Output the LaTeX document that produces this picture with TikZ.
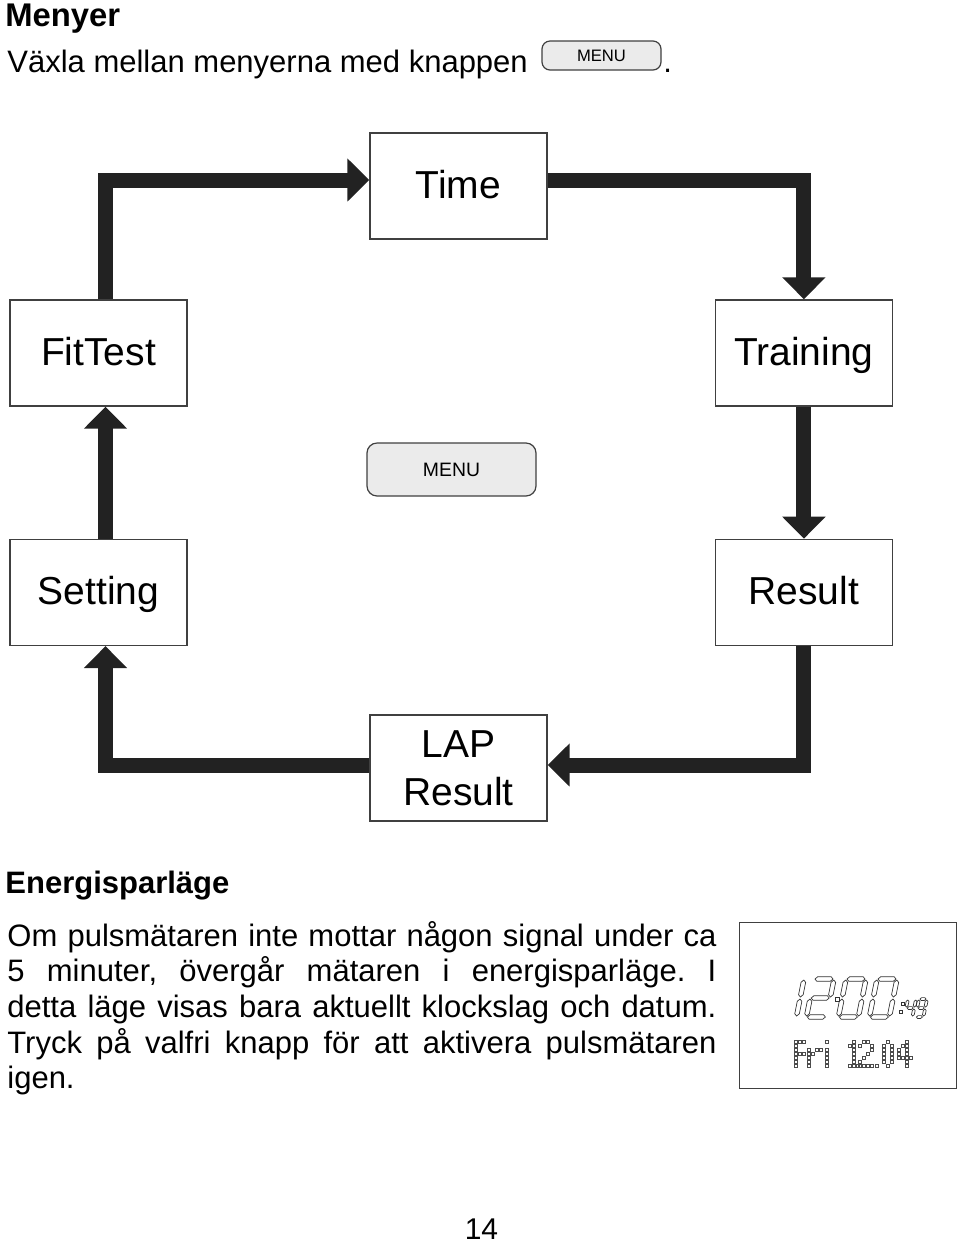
\documentclass[tikz,border=0pt]{standalone}
\usepackage{fontspec}
\setmainfont{Liberation Sans}
\usetikzlibrary{arrows.meta,positioning}

\definecolor{arrowgray}{HTML}{222222}
\definecolor{boxgray}{HTML}{404040}
\definecolor{keygray}{HTML}{EBEBEB}

% seven segment parts of the LCD (local units = px, y downwards)
\def\segW{20}\def\segH{38}\def\segt{2.3}
\newcommand\hseg[3]{\draw[lcdseg] (#1,#3) -- ({#1+\segt},{#3-\segt}) -- ({#2-\segt},{#3-\segt})
  -- (#2,#3) -- ({#2-\segt},{#3+\segt}) -- ({#1+\segt},{#3+\segt}) -- cycle;}
\newcommand\vseg[3]{\draw[lcdseg] (#1,#2) -- ({#1+\segt},{#2+\segt}) -- ({#1+\segt},{#3-\segt})
  -- (#1,#3) -- ({#1-\segt},{#3-\segt}) -- ({#1-\segt},{#2+\segt}) -- cycle;}
\newcommand\lcdsa{\hseg{1}{\segW-1}{0}}
\newcommand\lcdsb{\vseg{\segW}{1}{\segH/2-1}}
\newcommand\lcdsc{\vseg{\segW}{\segH/2+1}{\segH-1}}
\newcommand\lcdsd{\hseg{1}{\segW-1}{\segH}}
\newcommand\lcdse{\vseg{0}{\segH/2+1}{\segH-1}}
\newcommand\lcdsf{\vseg{0}{1}{\segH/2-1}}
\newcommand\lcdsg{\hseg{1}{\segW-1}{\segH/2}}
\newcommand\lcddigit[3]{\begin{scope}[shift={(#1,#2)},xslant=0.2]
  \foreach \s in {#3}{\csname lcds\s\endcsname}\end{scope}}
% dot matrix characters
\newcommand\lcdchar[3]{\foreach \cx/\ry in {#3}{\draw[lcddot] ({#1+4*\cx},{#2+4*\ry}) rectangle ++(2.8,2.8);}}

\tikzset{
  menubox/.style={draw=boxgray, line width=0.7pt, fill=white, minimum width=88.5pt,
    minimum height=53pt, inner sep=0pt, align=center, font=\fontsize{19.5}{24}\selectfont},
  oneline/.style={menubox, text height=16.5pt, text depth=4pt},
  menukey/.style={draw=boxgray, line width=0.6pt, fill=keygray, rounded corners=5pt, inner sep=0pt},
  flow/.style={draw=arrowgray, line width=7.5pt, line join=miter,
    -{Triangle[length=11pt,width=21pt]}},
  plaintext/.style={anchor=base west, inner sep=0pt},
  lcdseg/.style={draw=black!80, line width=0.35pt},
  lcddot/.style={draw=black!70, line width=0.3pt},
}

\begin{document}
\frenchspacing
\begin{tikzpicture}[x=0.5pt,y=-0.5pt]
  \useasboundingbox (0,0) rectangle (960,1244);

  % heading
  \node[plaintext, font=\bfseries\fontsize{16.4}{20}\selectfont] (title) at (5,26) {Menyer};
  \node[plaintext, font=\fontsize{15.5}{18}\selectfont] (intro) at (7,72) {Växla mellan menyerna med knappen};
  \node[menukey, rounded corners=4pt, minimum width=59.5pt, minimum height=14.5pt,
        font=\fontsize{8.3}{10}\selectfont] (smallkey) at (601.5,55.5) {MENU};
  \node[plaintext, font=\fontsize{15.5}{18}\selectfont] (dot) at (663,72) {.};

  % menu loop
  \node[oneline] (time)     at (458.5,186)            {Time};
  \node[oneline] (fittest)  at (98.5,353)             {FitTest};
  \node[oneline] (training) [right=263.5pt of fittest] {Training};
  \node[oneline] (setting)  [below=66pt of fittest]   {Setting};
  \node[oneline] (result)   [below=66pt of training]  {Result};
  \node[menubox] (lap)      at (458.5,768)            {LAP\\Result};
  \node[menukey, minimum width=84.5pt, minimum height=26.5pt,
        font=\fontsize{9.7}{12}\selectfont] (menukey) at (451.5,469.5) {MENU};

  \path[flow] ([xshift=3.5pt]fittest.north) |- ([yshift=3pt]time.west);
  \path[flow] ([yshift=3pt]time.east) -| (training.north);
  \path[flow] (training.south) -- (result.north);
  \path[flow] (result.south) |- ([yshift=1.5pt]lap.east);
  \path[flow] ([yshift=1.5pt]lap.west) -| ([xshift=3.5pt]setting.south);
  \path[flow] ([xshift=3.5pt]setting.north) -- ([xshift=3.5pt]fittest.south);

  % power saving text
  \node[plaintext, font=\bfseries\fontsize{15.5}{18}\selectfont] (energy) at (5,893) {Energisparläge};
  \node[plaintext, text width=354.5pt, align=justify, font=\fontsize{15.5}{17.85}\selectfont] (info) at (7,946)
    {Om pulsmätaren inte mottar någon signal under ca\linebreak
     5 minuter, övergår mätaren i energisparläge. I\linebreak
     detta läge visas bara aktuellt klockslag och datum.\linebreak
     Tryck på valfri knapp för att aktivera pulsmätaren\linebreak
     igen.};

  % LCD
  \draw[draw=black!75, line width=0.5pt] (739,922) rectangle (956,1088);
  \lcddigit{784}{979}{b,c}
  \lcddigit{814}{979}{a,b,g,e,d}
  \lcddigit{846}{979}{a,b,c,d,e,f}
  \lcddigit{877}{979}{a,b,c,d,e,f}
  \draw[lcdseg] (835,997) rectangle (839,1001);
  \draw[lcdseg] (901,1002) rectangle (904,1005);
  \draw[lcdseg] (899,1010) rectangle (902,1013);
  \def\segW{8}\def\segH{18}\def\segt{1.4}
  \lcddigit{908}{999}{f,g,b,c}
  \lcddigit{919}{999}{a,b,c,d,f,g}
  \lcdchar{794}{1040}{0/0,1/0,2/0,0/1,0/2,0/3,1/3,2/3,0/4,0/5,0/6}
  \lcdchar{807}{1040}{0/2,0/3,0/4,0/5,0/6,1/3,2/2,3/2}
  \lcdchar{825}{1040}{0/0,0/2,0/3,0/4,0/5,0/6}
  \lcdchar{848}{1040}{1/0,0/1,1/1,1/2,1/3,1/4,1/5,0/6,1/6,2/6}
  \lcdchar{858}{1040}{1/0,2/0,0/1,3/1,3/2,2/3,1/4,0/5,0/6,1/6,2/6,3/6}
  \lcdchar{875}{1040}{0/6}
  \lcdchar{882}{1040}{1/0,0/1,2/1,0/2,2/2,0/3,2/3,0/4,2/4,0/5,2/5,1/6}
  \lcdchar{897}{1040}{2/0,1/1,2/1,0/2,2/2,0/3,2/3,0/4,1/4,2/4,3/4,2/5,2/6}

  % page number
  \node[anchor=base, inner sep=0pt, font=\fontsize{15}{18}\selectfont] (page) at (481.5,1239) {14};
\end{tikzpicture}
\end{document}
